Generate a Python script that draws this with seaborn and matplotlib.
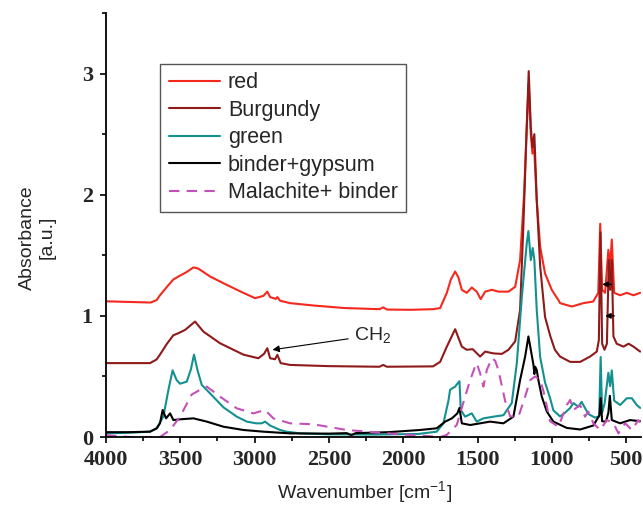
import matplotlib
matplotlib.use("Agg")
import matplotlib.pyplot as plt
import seaborn as sns
from matplotlib.ticker import MultipleLocator

# spectra (wavenumber in cm-1, absorbance)
red_wn = [4000, 3850, 3700, 3660, 3637, 3590, 3547, 3513, 3460, 3412, 3379, 3300, 3188, 3076,
          2997, 2941, 2915, 2896, 2858, 2847, 2829, 2762, 2600, 2400, 2160, 2135, 2110, 1950,
          1800, 1752, 1707, 1680, 1651, 1630, 1606, 1573, 1539, 1506, 1479, 1449, 1404, 1360,
          1292, 1247, 1214, 1187, 1169, 1156, 1142, 1131, 1120, 1102, 1079, 1046, 1001, 956,
          945, 866, 788, 722, 688, 675, 662, 642, 620, 608, 597, 581, 541, 496, 451, 406]
red_abs = [1.12, 1.115, 1.11, 1.13, 1.17, 1.24, 1.30, 1.325, 1.36, 1.40, 1.39, 1.325, 1.256, 1.19,
           1.146, 1.165, 1.20, 1.155, 1.14, 1.155, 1.125, 1.105, 1.085, 1.065, 1.055, 1.07, 1.052, 1.05,
           1.055, 1.064, 1.19, 1.30, 1.366, 1.32, 1.215, 1.19, 1.234, 1.20, 1.138, 1.20, 1.215, 1.20,
           1.20, 1.24, 1.46, 2.01, 2.56, 2.92, 2.50, 2.34, 2.40, 1.95, 1.57, 1.35, 1.215, 1.13,
           1.105, 1.077, 1.105, 1.118, 1.19, 1.76, 1.215, 1.19, 1.545, 1.41, 1.63, 1.19, 1.17, 1.19, 1.17, 1.19]

burg_wn = [4000, 3850, 3704, 3660, 3637, 3590, 3547, 3513, 3468, 3401, 3345, 3233, 3076, 2975,
           2937, 2915, 2896, 2863, 2847, 2825, 2762, 2500, 2160, 2135, 2110, 1800, 1752, 1707,
           1651, 1606, 1573, 1533, 1483, 1449, 1393, 1337, 1292, 1247, 1214, 1192, 1173, 1156,
           1142, 1131, 1118, 1102, 1079, 1046, 1010, 980, 945, 877, 810, 743, 698, 684, 673,
           662, 646, 630, 617, 608, 597, 586, 564, 519, 484, 451, 406]
burg_abs = [0.61, 0.61, 0.61, 0.64, 0.68, 0.77, 0.84, 0.857, 0.884, 0.953, 0.87, 0.774, 0.68, 0.65,
            0.686, 0.733, 0.65, 0.642, 0.678, 0.61, 0.595, 0.585, 0.58, 0.595, 0.58, 0.583, 0.62, 0.746,
            0.89, 0.746, 0.72, 0.725, 0.664, 0.705, 0.69, 0.686, 0.72, 0.79, 1.05, 1.74, 2.43, 3.02,
            2.56, 2.39, 2.50, 1.96, 1.41, 0.99, 0.83, 0.72, 0.664, 0.62, 0.62, 0.664, 0.705, 0.80, 1.69,
            0.77, 0.72, 0.77, 1.46, 1.215, 1.46, 0.83, 0.77, 0.746, 0.77, 0.746, 0.705]

green_wn = [4000, 3850, 3704, 3659, 3614, 3580, 3552, 3525, 3502, 3457, 3430, 3408, 3385, 3356,
            3300, 3210, 3120, 3053, 2990, 2952, 2930, 2896, 2829, 2784, 2694, 2500, 2200, 1900,
            1775, 1730, 1696, 1685, 1651, 1636, 1622, 1613, 1584, 1539, 1506, 1461, 1393, 1326,
            1270, 1236, 1202, 1169, 1158, 1142, 1129, 1118, 1102, 1079, 1046, 1012, 990, 945,
            912, 877, 855, 822, 800, 755, 710, 682, 672, 662, 645, 620, 608, 597, 581, 541,
            496, 462, 429, 406]
green_abs = [0.03, 0.035, 0.044, 0.072, 0.17, 0.39, 0.55, 0.47, 0.44, 0.457, 0.554, 0.68, 0.554, 0.43,
             0.36, 0.245, 0.168, 0.127, 0.113, 0.113, 0.127, 0.095, 0.058, 0.044, 0.03, 0.022, 0.02, 0.025,
             0.044, 0.113, 0.30, 0.39, 0.416, 0.44, 0.46, 0.223, 0.168, 0.195, 0.127, 0.154, 0.168, 0.18,
             0.28, 0.61, 1.16, 1.60, 1.70, 1.46, 1.56, 1.46, 1.05, 0.66, 0.45, 0.32, 0.22, 0.17,
             0.20, 0.24, 0.28, 0.25, 0.29, 0.19, 0.16, 0.17, 0.66, 0.20, 0.28, 0.53, 0.42, 0.55, 0.30, 0.264,
             0.32, 0.32, 0.264, 0.24]

black_wn = [4000, 3850, 3704, 3659, 3637, 3619, 3596, 3569, 3547, 3502, 3412, 3322, 3210, 3076,
            2941, 2762, 2500, 2380, 2350, 2320, 2100, 1887, 1775, 1718, 1673, 1636, 1622, 1606,
            1550, 1483, 1416, 1326, 1259, 1214, 1180, 1158, 1142, 1124, 1118, 1113, 1102, 1091,
            1068, 1034, 990, 900, 810, 721, 680, 672, 662, 636, 620, 610, 597, 541, 474, 406]
black_abs = [0.04, 0.04, 0.044, 0.072, 0.113, 0.223, 0.154, 0.195, 0.14, 0.146, 0.154, 0.127, 0.085, 0.058,
             0.044, 0.03, 0.028, 0.032, 0.015, 0.032, 0.04, 0.058, 0.072, 0.127, 0.154, 0.195, 0.24, 0.113,
             0.099, 0.113, 0.127, 0.113, 0.168, 0.47, 0.664, 0.83, 0.72, 0.595, 0.52, 0.58, 0.553, 0.47,
             0.333, 0.21, 0.127, 0.075, 0.062, 0.095, 0.18, 0.32, 0.13, 0.127, 0.20, 0.34, 0.14, 0.113, 0.14, 0.13]

mal_wn = [4000, 3839, 3637, 3569, 3502, 3424, 3367, 3322, 3233, 3121, 3009, 2930, 2874, 2762,
          2605, 2381, 2156, 2000, 1865, 1750, 1708, 1640, 1617, 1584, 1550, 1517, 1506, 1483,
          1461, 1438, 1404, 1382, 1360, 1315, 1281, 1225, 1180, 1146, 1113, 1079, 1057, 1012,
          956, 900, 877, 855, 810, 777, 755, 721, 675, 630, 586, 552, 507, 462, 418, 406]
mal_abs = [0.015, 0.0, 0.0, 0.058, 0.168, 0.35, 0.39, 0.416, 0.333, 0.237, 0.195, 0.223, 0.154, 0.113,
           0.105, 0.058, 0.036, 0.02, 0.01, 0.0, 0.017, 0.10, 0.195, 0.333, 0.47, 0.58, 0.61, 0.526,
           0.416, 0.553, 0.65, 0.63, 0.553, 0.30, 0.17, 0.168, 0.333, 0.47, 0.50, 0.47, 0.38, 0.13,
           0.085, 0.264, 0.306, 0.223, 0.264, 0.168, 0.21, 0.113, 0.058, 0.14, 0.113, 0.03, 0.113, 0.058, 0.14, 0.12]

sns.set_style("ticks")
plt.rcParams["font.family"] = ["Liberation Sans", "DejaVu Sans"]
plt.rcParams["mathtext.default"] = "regular"

fig = plt.figure(figsize=(6.43, 5.11), dpi=100)
ax = fig.add_axes([0.1649, 0.1448, 0.8321, 0.8298])

lw = 1.5
sns.lineplot(x=red_wn, y=red_abs, ax=ax, color="#f5281e", lw=lw, sort=False, estimator=None, label="red")
sns.lineplot(x=burg_wn, y=burg_abs, ax=ax, color="#8e1a1a", lw=lw, sort=False, estimator=None, label="Burgundy")
sns.lineplot(x=green_wn, y=green_abs, ax=ax, color="#12918f", lw=lw, sort=False, estimator=None, label="green")
sns.lineplot(x=black_wn, y=black_abs, ax=ax, color="black", lw=lw, sort=False, estimator=None, label="binder+gypsum")
sns.lineplot(x=mal_wn, y=mal_abs, ax=ax, color="#c451b8", lw=lw, sort=False, estimator=None,
             label="Malachite+ binder", linestyle=(0, (5, 3.5)))

ax.set_xlim(4000, 400)
ax.set_ylim(0, 3.5)
sns.despine(ax=ax)
for s in ["left", "bottom"]:
    ax.spines[s].set_linewidth(1.3)
    ax.spines[s].set_color("black")

ax.xaxis.set_major_locator(MultipleLocator(500))
ax.xaxis.set_minor_locator(MultipleLocator(250))
ax.yaxis.set_major_locator(MultipleLocator(1))
ax.yaxis.set_minor_locator(MultipleLocator(0.5))
ax.tick_params(which="major", direction="out", length=4.5, width=1.2, pad=5, color="black")
ax.tick_params(which="minor", direction="out", length=3, width=1.2, color="black")
for lbl in ax.get_xticklabels() + ax.get_yticklabels():
    lbl.set_fontfamily("Liberation Serif")
    lbl.set_fontweight("bold")
    lbl.set_fontsize(16)

ax.set_xlabel("Wavenumber [cm$^{-1}$]", fontsize=14)
ax.set_ylabel("Absorbance\n[a.u.]", fontsize=14, multialignment="center")
ax.xaxis.set_label_coords(0.484, -0.10)
ax.yaxis.set_label_coords(-0.095, 0.47)

ax.annotate("CH$_2$", xy=(2880, 0.72), xytext=(2330, 0.84), fontsize=14, va="center",
            arrowprops=dict(arrowstyle="-|>", color="black", lw=0.8, mutation_scale=10, shrinkA=2, shrinkB=0))
ax.annotate("", xy=(662, 1.26), xytext=(600, 1.26),
            arrowprops=dict(arrowstyle="-|>", color="black", lw=1, mutation_scale=8, shrinkA=0, shrinkB=0))
ax.annotate("", xy=(642, 1.0), xytext=(580, 1.0),
            arrowprops=dict(arrowstyle="-|>", color="black", lw=1, mutation_scale=8, shrinkA=0, shrinkB=0))

leg = ax.legend(loc="upper left", bbox_to_anchor=(0.101, 0.88), borderaxespad=0, fontsize=15.5,
                frameon=True, fancybox=False, edgecolor="#555555", framealpha=1,
                handlelength=2.4, handletextpad=0.35, labelspacing=0.3, borderpad=0.4)
leg.get_frame().set_linewidth(1.0)

fig.savefig("out.png", dpi=100)
